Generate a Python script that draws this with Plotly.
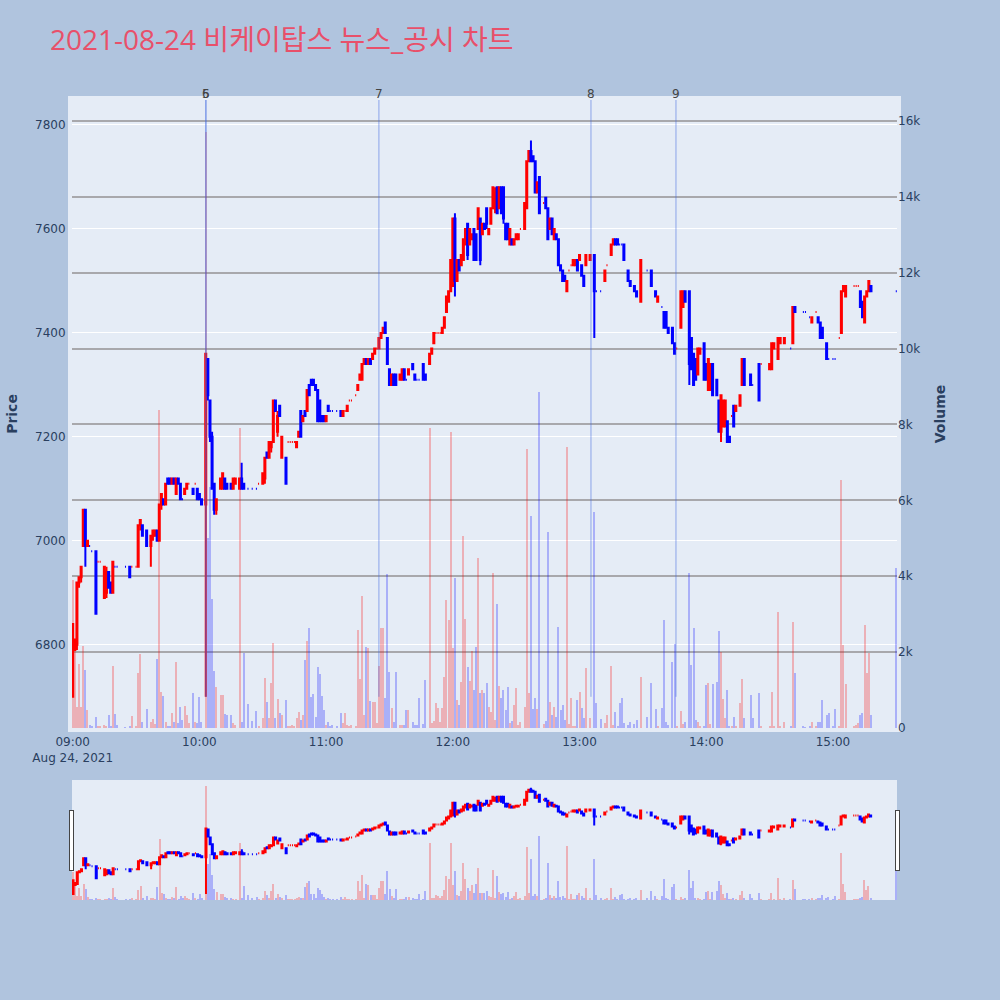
import pandas as pd
import plotly.graph_objects as go
from plotly.subplots import make_subplots

TITLE = "2021-08-24 비케이탑스 뉴스_공시 차트"
SESSION_START = "2021-08-24 09:00:00"

# minutes after 09:00 for each 1-minute candle
MINUTE = [
    0, 1, 2, 3, 4, 5, 6, 7, 8, 9,
    11, 12, 13, 15, 16, 17, 18, 19, 20, 21,
    25, 27, 28, 30, 31, 32, 33, 35, 37, 38,
    39, 40, 41, 42, 43, 44, 45, 46, 47, 48,
    49, 50, 51, 52, 53, 54, 55, 57, 58, 59,
    60, 61, 63, 64, 65, 66, 67, 68, 70, 71,
    72, 73, 75, 76, 77, 79, 80, 81, 83, 85,
    87, 88, 90, 91, 92, 93, 94, 95, 96, 97,
    98, 99, 101, 102, 103, 104, 105, 106, 107, 108,
    109, 110, 111, 112, 113, 114, 115, 116, 117, 118,
    119, 120, 121, 122, 123, 125, 127, 128, 129, 130,
    131, 132, 134, 135, 136, 137, 138, 139, 140, 141,
    142, 143, 144, 145, 146, 147, 148, 149, 150, 151,
    152, 153, 155, 156, 157, 158, 159, 161, 162, 163,
    164, 166, 167, 169, 170, 171, 172, 173, 174, 175,
    176, 177, 178, 179, 180, 181, 182, 183, 184, 185,
    186, 187, 188, 189, 190, 191, 192, 193, 194, 195,
    196, 197, 198, 199, 200, 201, 202, 203, 204, 205,
    206, 207, 208, 209, 210, 211, 212, 214, 215, 216,
    217, 218, 219, 220, 221, 223, 224, 225, 226, 227,
    228, 229, 230, 231, 232, 233, 234, 235, 236, 237,
    238, 239, 240, 241, 242, 243, 245, 247, 248, 250,
    252, 253, 255, 256, 257, 258, 259, 260, 261, 263,
    264, 266, 267, 269, 272, 274, 276, 277, 279, 280,
    281, 282, 284, 285, 286, 288, 289, 290, 292, 293,
    294, 295, 296, 297, 299, 300, 301, 302, 303, 305,
    306, 307, 308, 309, 310, 311, 312, 313, 314, 316,
    317, 318, 321, 322, 325, 326, 330, 331, 332, 334,
    335, 337, 340, 341, 342, 346, 347, 349, 350, 352,
    353, 354, 355, 357, 358, 360, 361, 363, 364, 365,
    366, 370, 371, 372, 373, 374, 375, 376, 377, 378,
    390,
]

OPEN = [
    6700, 6790, 6800, 6920, 6930, 6990, 7060, 6990, 6990, 6980,
    6980, 6960, 6960, 6890, 6900, 6940, 6920, 6900, 6950, 6950,
    6950, 6950, 6950, 6950, 6950, 7030, 7030, 7020, 6990, 7010,
    7010, 7020, 7000, 7070, 7080, 7070, 7120, 7120, 7110, 7120,
    7090, 7120, 7110, 7080, 7090, 7100, 7110, 7100, 7110, 7100,
    7090, 7080, 7070, 7350, 7270, 7200, 7110, 7060, 7100, 7100,
    7120, 7110, 7110, 7100, 7110, 7100, 7120, 7110, 7100, 7100,
    7100, 7110, 7110, 7120, 7170, 7160, 7180, 7190, 7270, 7210,
    7260, 7160, 7160, 7190, 7190, 7190, 7190, 7180, 7200, 7250,
    7230, 7250, 7250, 7300, 7310, 7310, 7300, 7290, 7270, 7240,
    7240, 7230, 7260, 7250, 7250, 7250, 7250, 7240, 7250, 7250,
    7270, 7270, 7280, 7290, 7310, 7310, 7340, 7350, 7340, 7350,
    7350, 7360, 7370, 7370, 7390, 7400, 7420, 7390, 7330, 7300,
    7320, 7320, 7310, 7310, 7330, 7310, 7320, 7340, 7320, 7310,
    7310, 7340, 7320, 7340, 7360, 7380, 7400, 7400, 7400, 7400,
    7410, 7440, 7460, 7480, 7490, 7620, 7500, 7540, 7530, 7540,
    7570, 7610, 7570, 7580, 7600, 7590, 7600, 7620, 7590, 7610,
    7640, 7590, 7610, 7640, 7640, 7680, 7640, 7680, 7680, 7610,
    7610, 7570, 7580, 7570, 7580, 7580, 7600, 7600, 7640, 7730,
    7750, 7740, 7730, 7670, 7700, 7650, 7660, 7640, 7600, 7620,
    7580, 7590, 7580, 7530, 7520, 7510, 7480, 7520, 7530, 7530,
    7530, 7540, 7540, 7530, 7510, 7530, 7540, 7550, 7480, 7480,
    7500, 7530, 7550, 7570, 7580, 7580, 7570, 7570, 7570, 7520,
    7500, 7490, 7480, 7460, 7520, 7520, 7480, 7460, 7450, 7440,
    7440, 7410, 7410, 7380, 7370, 7410, 7450, 7480, 7480, 7390,
    7360, 7350, 7320, 7360, 7380, 7340, 7290, 7290, 7340, 7310,
    7270, 7210, 7220, 7220, 7230, 7200, 7240, 7260, 7250, 7260,
    7300, 7350, 7320, 7300, 7340, 7340, 7330, 7330, 7370, 7350,
    7380, 7380, 7370, 7380, 7450, 7440, 7440, 7430, 7420, 7440,
    7430, 7420, 7410, 7380, 7350, 7350, 7350, 7390, 7400, 7480,
    7470, 7490, 7490, 7490, 7480, 7460, 7420, 7470, 7480, 7490,
    7480,
]

HIGH = [
    6840, 6810, 6920, 6930, 6950, 7060, 7060, 7000, 6990, 6980,
    6980, 6960, 6960, 6950, 6950, 6940, 6920, 6960, 6950, 6950,
    6950, 6950, 6950, 6950, 7030, 7040, 7030, 7020, 7010, 7020,
    7020, 7020, 7070, 7090, 7080, 7110, 7120, 7120, 7120, 7120,
    7120, 7120, 7110, 7080, 7100, 7110, 7110, 7100, 7110, 7100,
    7090, 7080, 7360, 7350, 7270, 7210, 7110, 7080, 7120, 7130,
    7120, 7110, 7110, 7120, 7120, 7120, 7150, 7110, 7100, 7100,
    7100, 7110, 7130, 7160, 7170, 7190, 7190, 7270, 7270, 7250,
    7260, 7200, 7160, 7190, 7190, 7190, 7190, 7190, 7210, 7250,
    7240, 7250, 7290, 7300, 7310, 7310, 7300, 7290, 7270, 7240,
    7240, 7240, 7260, 7250, 7250, 7250, 7250, 7250, 7250, 7260,
    7270, 7270, 7280, 7300, 7320, 7340, 7350, 7350, 7350, 7350,
    7360, 7370, 7370, 7390, 7400, 7410, 7420, 7390, 7330, 7320,
    7320, 7320, 7320, 7330, 7330, 7310, 7330, 7340, 7320, 7310,
    7310, 7340, 7320, 7360, 7370, 7400, 7400, 7400, 7400, 7410,
    7430, 7470, 7480, 7540, 7620, 7630, 7540, 7540, 7550, 7580,
    7600, 7610, 7600, 7590, 7600, 7590, 7640, 7620, 7610, 7610,
    7640, 7600, 7640, 7680, 7680, 7680, 7680, 7680, 7680, 7610,
    7610, 7600, 7580, 7580, 7590, 7590, 7600, 7650, 7730, 7750,
    7770, 7740, 7730, 7690, 7700, 7650, 7660, 7640, 7620, 7620,
    7600, 7590, 7580, 7530, 7520, 7510, 7500, 7520, 7530, 7540,
    7540, 7540, 7550, 7530, 7510, 7550, 7550, 7550, 7480, 7480,
    7520, 7530, 7570, 7580, 7580, 7580, 7570, 7570, 7570, 7520,
    7500, 7490, 7480, 7540, 7520, 7520, 7480, 7470, 7450, 7440,
    7440, 7410, 7410, 7380, 7370, 7480, 7480, 7480, 7480, 7390,
    7360, 7350, 7370, 7370, 7380, 7340, 7350, 7340, 7340, 7310,
    7270, 7280, 7270, 7270, 7230, 7200, 7240, 7260, 7260, 7280,
    7350, 7350, 7320, 7300, 7340, 7340, 7340, 7380, 7380, 7390,
    7390, 7390, 7370, 7450, 7450, 7440, 7440, 7430, 7430, 7440,
    7430, 7420, 7410, 7380, 7350, 7350, 7350, 7390, 7480, 7490,
    7490, 7490, 7490, 7490, 7480, 7460, 7470, 7480, 7500, 7490,
    7480,
]

LOW = [
    6700, 6790, 6790, 6910, 6920, 6990, 6950, 6990, 6990, 6980,
    6860, 6960, 6960, 6890, 6890, 6910, 6900, 6900, 6950, 6950,
    6950, 6930, 6950, 6950, 6950, 7020, 7010, 6990, 6950, 7000,
    7010, 7000, 7000, 7060, 7070, 7070, 7110, 7110, 7110, 7110,
    7090, 7110, 7080, 7080, 7090, 7100, 7110, 7090, 7110, 7080,
    7080, 7070, 6700, 7270, 7190, 7100, 7050, 7050, 7100, 7100,
    7100, 7100, 7100, 7100, 7110, 7100, 7100, 7100, 7100, 7100,
    7100, 7110, 7110, 7110, 7160, 7160, 7170, 7190, 7250, 7200,
    7240, 7160, 7110, 7190, 7190, 7190, 7190, 7180, 7200, 7200,
    7230, 7240, 7250, 7280, 7300, 7300, 7290, 7230, 7230, 7230,
    7230, 7230, 7250, 7250, 7250, 7250, 7240, 7240, 7250, 7250,
    7270, 7270, 7280, 7290, 7310, 7310, 7340, 7340, 7340, 7340,
    7350, 7360, 7370, 7370, 7390, 7400, 7400, 7340, 7300, 7300,
    7300, 7300, 7310, 7310, 7310, 7310, 7320, 7330, 7310, 7310,
    7310, 7310, 7310, 7340, 7360, 7380, 7400, 7400, 7400, 7400,
    7410, 7440, 7460, 7480, 7490, 7470, 7500, 7520, 7530, 7540,
    7570, 7540, 7570, 7580, 7540, 7540, 7600, 7530, 7590, 7600,
    7600, 7590, 7610, 7640, 7630, 7630, 7640, 7630, 7610, 7580,
    7580, 7570, 7570, 7570, 7580, 7580, 7600, 7600, 7640, 7730,
    7730, 7730, 7670, 7670, 7630, 7650, 7640, 7580, 7600, 7590,
    7580, 7580, 7530, 7520, 7500, 7500, 7480, 7520, 7530, 7530,
    7530, 7520, 7540, 7510, 7490, 7530, 7540, 7390, 7480, 7480,
    7500, 7530, 7550, 7570, 7570, 7570, 7570, 7570, 7540, 7500,
    7490, 7480, 7470, 7460, 7520, 7490, 7470, 7460, 7450, 7410,
    7410, 7400, 7380, 7360, 7370, 7410, 7450, 7460, 7300, 7330,
    7300, 7310, 7320, 7360, 7310, 7310, 7290, 7290, 7280, 7280,
    7210, 7190, 7220, 7220, 7190, 7190, 7240, 7220, 7250, 7260,
    7300, 7300, 7300, 7300, 7270, 7340, 7330, 7330, 7370, 7350,
    7380, 7380, 7370, 7380, 7440, 7440, 7440, 7430, 7420, 7440,
    7420, 7390, 7390, 7350, 7350, 7350, 7350, 7390, 7400, 7480,
    7470, 7490, 7490, 7490, 7450, 7430, 7420, 7470, 7480, 7480,
    7480,
]

CLOSE = [
    6840, 6810, 6920, 6930, 6950, 7060, 6990, 7000, 6990, 6980,
    6860, 6960, 6960, 6950, 6940, 6910, 6900, 6960, 6950, 6950,
    6950, 6930, 6950, 6950, 7030, 7040, 7010, 6990, 7010, 7020,
    7020, 7000, 7070, 7090, 7070, 7110, 7110, 7110, 7120, 7110,
    7120, 7110, 7080, 7080, 7100, 7110, 7110, 7090, 7110, 7080,
    7080, 7070, 7360, 7280, 7200, 7100, 7060, 7080, 7120, 7130,
    7100, 7100, 7100, 7120, 7120, 7120, 7100, 7100, 7100, 7100,
    7100, 7110, 7130, 7160, 7160, 7190, 7190, 7270, 7250, 7240,
    7240, 7200, 7110, 7190, 7190, 7190, 7190, 7190, 7210, 7200,
    7240, 7240, 7290, 7280, 7300, 7300, 7290, 7230, 7230, 7230,
    7230, 7240, 7250, 7250, 7250, 7250, 7240, 7250, 7250, 7260,
    7270, 7270, 7280, 7300, 7320, 7340, 7350, 7340, 7350, 7340,
    7360, 7370, 7370, 7390, 7400, 7410, 7400, 7340, 7300, 7320,
    7300, 7300, 7320, 7330, 7310, 7310, 7330, 7330, 7310, 7310,
    7310, 7310, 7310, 7360, 7370, 7400, 7400, 7400, 7400, 7410,
    7430, 7470, 7480, 7540, 7620, 7500, 7540, 7520, 7550, 7580,
    7600, 7550, 7600, 7590, 7540, 7540, 7640, 7540, 7610, 7600,
    7610, 7600, 7640, 7680, 7670, 7630, 7680, 7630, 7620, 7580,
    7580, 7600, 7570, 7580, 7590, 7590, 7600, 7650, 7730, 7750,
    7730, 7730, 7670, 7690, 7630, 7650, 7640, 7580, 7620, 7590,
    7600, 7580, 7530, 7520, 7500, 7500, 7500, 7520, 7530, 7540,
    7540, 7520, 7550, 7510, 7490, 7550, 7550, 7480, 7480, 7480,
    7520, 7530, 7570, 7580, 7570, 7570, 7570, 7570, 7540, 7500,
    7490, 7480, 7470, 7540, 7520, 7490, 7470, 7470, 7450, 7410,
    7410, 7400, 7380, 7360, 7370, 7480, 7480, 7460, 7340, 7330,
    7300, 7310, 7370, 7370, 7310, 7310, 7350, 7340, 7280, 7280,
    7210, 7280, 7270, 7270, 7190, 7190, 7240, 7220, 7260, 7280,
    7350, 7300, 7300, 7300, 7270, 7340, 7340, 7380, 7380, 7390,
    7390, 7390, 7370, 7450, 7440, 7440, 7440, 7430, 7430, 7440,
    7420, 7390, 7390, 7350, 7350, 7350, 7350, 7390, 7480, 7490,
    7490, 7490, 7490, 7490, 7450, 7430, 7470, 7480, 7500, 7480,
    7480,
]

VOLUME = [
    3900, 2150, 560, 1700, 560, 2150, 1530, 475, 90, 60,
    300, 40, 40, 80, 60, 340, 40, 1640, 370, 80,
    20, 60, 316, 60, 1440, 1940, 170, 510, 170, 230,
    100, 1810, 8390, 940, 840, 150, 60, 60, 387, 167,
    1749, 123, 563, 211, 580, 343, 123, 914, 167, 123,
    826, 167, 15700, 5000, 6350, 3400, 1500, 1072, 870, 870,
    369, 343, 343, 123, 80, 7900, 150, 1970, 624, 185,
    448, 60, 255, 1310, 694, 255, 1178, 2250, 255, 765,
    387, 343, 738, 60, 60, 80, 60, 255, 431, 211,
    343, 1793, 2303, 2628, 826, 888, 299, 1617, 1424, 844,
    475, 80, 150, 60, 80, 40, 387, 123, 404, 80,
    60, 80, 60, 2584, 1292, 3481, 343, 2145, 2101, 721,
    694, 694, 123, 1644, 2646, 2646, 782, 4052, 1486, 519,
    150, 1468, 80, 80, 80, 475, 475, 150, 80, 80,
    782, 100, 1266, 7902, 141, 185, 650, 519, 167, 519,
    1336, 3375, 2848, 7814, 2101, 3964, 738, 607, 1222, 5063,
    2871, 1617, 1239, 2039, 1002, 2145, 4474, 914, 1002, 932,
    1178, 562, 431, 4079, 211, 3270, 1116, 782, 1002, 475,
    1090, 123, 193, 607, 1046, 80, 167, 560, 7348, 914,
    5600, 492, 800, 492, 8850, 100, 185, 5160, 694, 343,
    563, 281, 2672, 475, 607, 211, 7419, 100, 782, 60,
    35, 738, 940, 519, 255, 1591, 255, 5687, 650, 237,
    123, 343, 1635, 80, 431, 53, 650, 782, 123, 80,
    167, 100, 211, 1354, 281, 1178, 501, 60, 519, 2848,
    167, 80, 1749, 2215, 60, 457, 100, 167, 4079, 1661,
    2628, 211, 167, 60, 60, 1134, 1178, 100, 1151, 1222,
    2558, 2013, 765, 255, 1002, 60, 60, 281, 60, 650,
    1283, 255, 870, 255, 932, 60, 60, 958, 35, 3050,
    60, 167, 60, 2786, 1459, 40, 18, 60, 167, 60,
    167, 167, 738, 343, 387, 40, 492, 60, 6540, 2189,
    1151, 40, 80, 123, 343, 387, 2716, 1442, 1987, 343,
    4210,
]

NEWS_LABELS = ["5", "6", "7", "8", "9"]
NEWS_TIMES = [
    "2021-08-24 10:03:05",
    "2021-08-24 10:03:05",
    "2021-08-24 11:25:00",
    "2021-08-24 13:05:25",
    "2021-08-24 13:45:40",
]

PRICE_RANGE = [6640, 7848]
VOLUME_RANGE = [0, 16553]

n = len(MINUTE)
assert all(len(a) == n for a in (OPEN, HIGH, LOW, CLOSE, VOLUME))

t0 = pd.Timestamp(SESSION_START)
x = [t0 + pd.Timedelta(minutes=m) for m in MINUTE]

# volume colours follow candle direction (same rule plotly uses for flat candles)
vol_colors = []
inc = True
prev_c = None
for o, c in zip(OPEN, CLOSE):
    if c == o:
        if prev_c is not None and c != prev_c:
            inc = c > prev_c
    else:
        inc = c > o
    prev_c = c
    vol_colors.append("red" if inc else "blue")

fig = make_subplots(specs=[[{"secondary_y": True}]])

fig.add_trace(
    go.Candlestick(
        x=x, open=OPEN, high=HIGH, low=LOW, close=CLOSE,
        increasing=dict(line=dict(color="red", width=2), fillcolor="red"),
        decreasing=dict(line=dict(color="blue", width=2), fillcolor="blue"),
        name="Price", showlegend=False,
    ),
    secondary_y=False,
)

fig.add_trace(
    go.Bar(
        x=x, y=VOLUME, width=30000,
        marker=dict(color=vol_colors, line=dict(width=0)),
        opacity=0.25, name="Volume", showlegend=False,
    ),
    secondary_y=True,
)

AX_FONT = "DejaVu Sans, Verdana, sans-serif"

line_bottom = min(LOW)
for lab, t in zip(NEWS_LABELS, NEWS_TIMES):
    fig.add_shape(
        type="line", xref="x", yref="y",
        x0=t, x1=t, y0=line_bottom, y1=PRICE_RANGE[1],
        line=dict(color="rgba(65,105,225,0.55)", width=1),
    )
    fig.add_annotation(
        x=t, xref="x", y=1, yref="paper", text=lab, showarrow=False,
        yanchor="bottom", yshift=-3, font=dict(size=12, color="#444", family=AX_FONT),
    )

BG = "#e5ecf6"
x_range = [t0 - pd.Timedelta(seconds=20), t0 + pd.Timedelta(minutes=390, seconds=20)]

fig.update_layout(
    width=1000, height=1000,
    paper_bgcolor="#b0c4de", plot_bgcolor=BG,
    font=dict(family=AX_FONT, size=12, color="#2a3f5f"),
    title=dict(
        text=TITLE, x=0.05, xanchor="left", y=0.96, yanchor="middle",
        font=dict(size=28, color="#e8506a", family="Open Sans, Noto Sans CJK KR, sans-serif"),
    ),
    margin=dict(l=72, r=103, t=100, b=100),
    showlegend=False,
    bargap=0,
)

fig.update_xaxes(
    type="date", range=x_range, domain=[0, 1], showgrid=False, automargin=False,
    dtick=3600000, tick0=SESSION_START, tickfont=dict(size=12, family=AX_FONT),
    showline=True, linewidth=4, linecolor=BG, mirror=True,
    rangeslider=dict(visible=True, thickness=0.15, bgcolor=BG),
)
fig.update_yaxes(
    title=dict(text="<b>Price</b>", font=dict(size=14, family=AX_FONT)),
    range=PRICE_RANGE, dtick=200, automargin=False,
    tickfont=dict(size=12, family=AX_FONT),
    gridcolor="white", zeroline=False,
    showline=True, linewidth=4, linecolor=BG, mirror=True,
    secondary_y=False,
)
fig.update_yaxes(
    title=dict(text="<b>Volume</b>", font=dict(size=14, family=AX_FONT)),
    range=VOLUME_RANGE, dtick=2000, automargin=False,
    tickfont=dict(size=12, family=AX_FONT),
    showgrid=True, gridcolor="#a8a8ac", gridwidth=2, zeroline=False,
    secondary_y=True,
)

fig.write_html(
    "out.html",
    config={"displayModeBar": False},
    post_script="document.body.style.margin='0px';document.body.style.overflow='hidden';",
)
